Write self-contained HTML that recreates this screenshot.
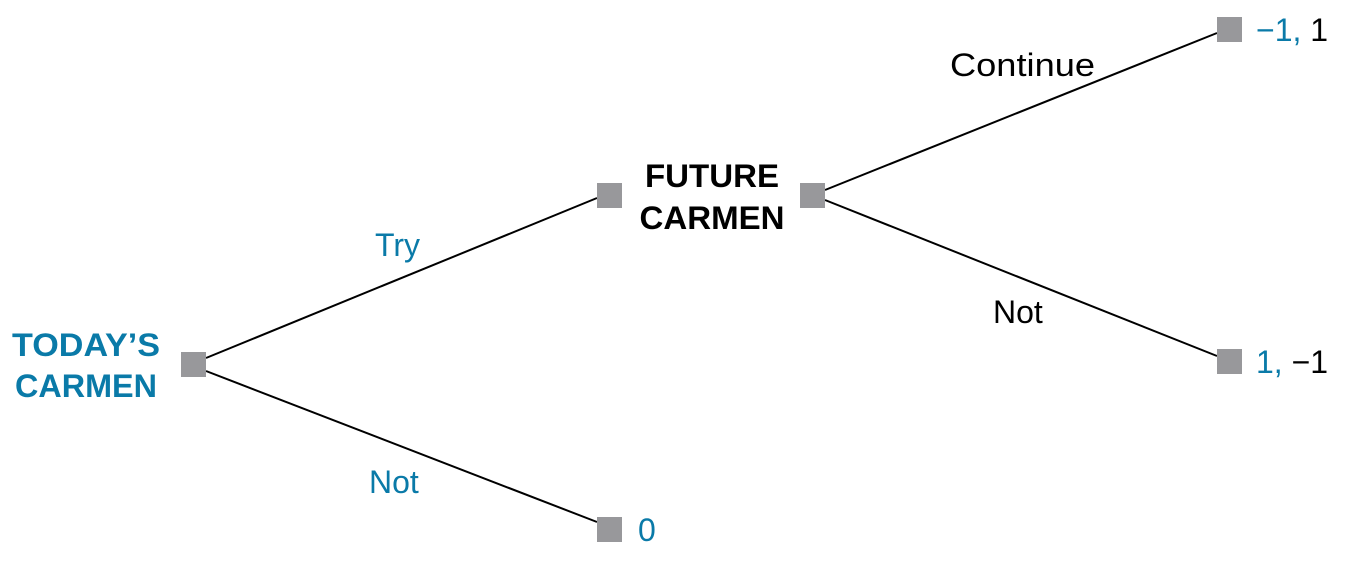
<!DOCTYPE html>
<html><head><meta charset="utf-8"><style>
html,body{margin:0;padding:0;background:#fff;}
svg{display:block;font-family:"Liberation Sans",sans-serif;}
</style></head><body>
<svg width="1355" height="562" viewBox="0 0 1355 562">
<g stroke="#000" stroke-width="2" fill="none">
<line x1="206" y1="358" x2="597" y2="198"/>
<line x1="206" y1="371" x2="597" y2="522"/>
<line x1="825" y1="190" x2="1217" y2="33"/>
<line x1="825" y1="200" x2="1217" y2="356"/>
</g>
<g fill="#98989b">
<rect x="181" y="352" width="25" height="25"/>
<rect x="597" y="183" width="25" height="25"/>
<rect x="800" y="183" width="25" height="25"/>
<rect x="1217" y="17" width="25" height="25"/>
<rect x="1217" y="349" width="25" height="25"/>
<rect x="597" y="517" width="25" height="25"/>
</g>
<g font-size="32" font-weight="bold" fill="#0a7aa8" text-anchor="middle">
<text x="86" y="356" textLength="148" lengthAdjust="spacingAndGlyphs">TODAY’S</text>
<text x="86" y="397" textLength="142" lengthAdjust="spacingAndGlyphs">CARMEN</text>
</g>
<g font-size="32" font-weight="bold" fill="#000" text-anchor="middle">
<text x="712" y="187" textLength="134" lengthAdjust="spacingAndGlyphs">FUTURE</text>
<text x="712" y="229" textLength="145" lengthAdjust="spacingAndGlyphs">CARMEN</text>
</g>
<g font-size="32">
<text x="375" y="256" fill="#0a7aa8">Try</text>
<text x="369" y="493" fill="#0a7aa8">Not</text>
<text x="638" y="541" fill="#0a7aa8">0</text>
<text x="950" y="76" fill="#000" textLength="145" lengthAdjust="spacingAndGlyphs">Continue</text>
<text x="993" y="323" fill="#000">Not</text>
<text x="1256" y="41"><tspan fill="#0a7aa8">−1,</tspan><tspan fill="#000"> 1</tspan></text>
<text x="1256" y="373"><tspan fill="#0a7aa8">1,</tspan><tspan fill="#000"> −1</tspan></text>
</g>
</svg>
</body></html>
